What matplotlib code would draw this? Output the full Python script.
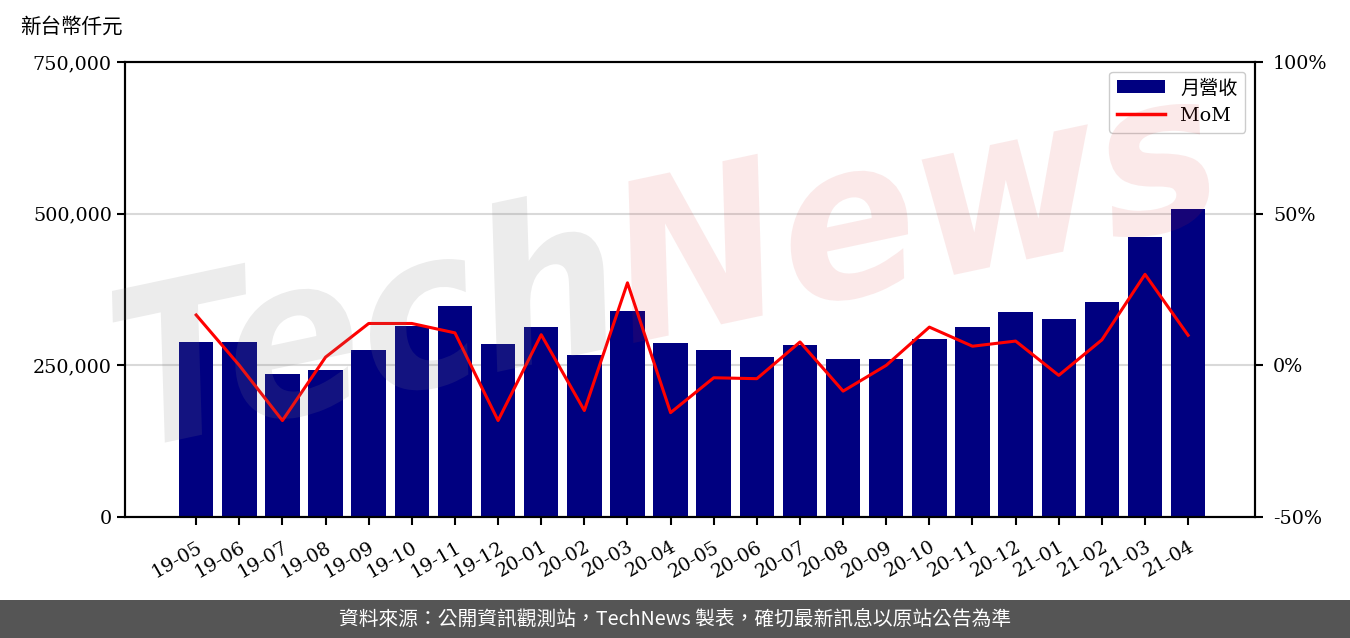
import matplotlib
matplotlib.use("Agg")
import matplotlib.pyplot as plt
from matplotlib.textpath import TextPath
from matplotlib.font_manager import FontProperties
from matplotlib.patches import PathPatch, Rectangle, Patch
from matplotlib.lines import Line2D
from matplotlib.transforms import Affine2D, IdentityTransform
from matplotlib.ticker import FuncFormatter

months = ["19-05", "19-06", "19-07", "19-08", "19-09", "19-10", "19-11", "19-12",
          "20-01", "20-02", "20-03", "20-04", "20-05", "20-06", "20-07", "20-08",
          "20-09", "20-10", "20-11", "20-12", "21-01", "21-02", "21-03", "21-04"]
revenue = [287800, 287800, 235000, 241600, 274600, 314100, 347100, 284500,
           312500, 266300, 338900, 286100, 274600, 263000, 282800, 259700,
           259700, 292700, 312500, 337200, 325700, 353700, 460900, 507100]
mom = [16.6, 0.0, -18.2, 2.7, 13.8, 13.8, 10.7, -18.2,
       10.1, -14.9, 27.2, -15.6, -4.1, -4.4, 7.7, -8.5,
       0.0, 12.6, 6.3, 8.0, -3.3, 8.4, 30.0, 9.9]

FONT = ["DejaVu Serif", "Noto Sans CJK TC"]
CJK = ["Noto Sans CJK TC", "DejaVu Sans"]
FS = 13.8

W, H, DPI = 1350, 638, 100
fig = plt.figure(figsize=(W / DPI, H / DPI), dpi=DPI)
ax = fig.add_axes([125 / W, 1 - 517 / H, (1255 - 125) / W, (517 - 62) / H])
ax2 = ax.twinx()

x = list(range(len(months)))
ax.bar(x, revenue, width=0.8, color="#000080", zorder=2)
ax.set_ylim(0, 750000)
ax.set_yticks([0, 250000, 500000, 750000])
ax.yaxis.set_major_formatter(FuncFormatter(lambda v, p: f"{int(v):,}"))
ax.grid(axis="y", color="#d9d9d9", linewidth=1.5, zorder=0)
ax.set_axisbelow(True)
ax.set_xlim(-1.65, len(months) - 1 + 1.55)
ax.set_xticks(x)
ax.set_xticklabels(months, rotation=30, ha="right", rotation_mode="anchor")

ax2.plot(x, mom, color="#ff0000", linewidth=2.2, zorder=3)
ax2.set_ylim(-50, 100)
ax2.set_yticks([-50, 0, 50, 100])
ax2.yaxis.set_major_formatter(FuncFormatter(lambda v, p: f"{int(v)}%"))

for a in (ax, ax2):
    for s in a.spines.values():
        s.set_linewidth(1.5)
    a.tick_params(width=1.5, length=6, labelsize=FS)
    for lbl in a.get_xticklabels() + a.get_yticklabels():
        lbl.set_family(FONT)
ax2.tick_params(axis="y", pad=7)
ax.tick_params(axis="x", pad=9)

handles = [Patch(facecolor="#000080"), Line2D([0], [0], color="#ff0000", linewidth=2.5)]
leg = ax2.legend(handles, ["月營收", "MoM"], loc="upper right",
                 prop=FontProperties(family=FONT, size=FS), handlelength=2.5,
                 fancybox=True, framealpha=1, edgecolor="#cccccc")

fig.text(20 / W, 1 - 27 / H, "新台幣仟元", family=CJK, fontsize=14.8, va="center", ha="left")

# watermark
fp = FontProperties(family="DejaVu Sans", style="italic", weight="bold")
tp1 = TextPath((0, 0), "Tech", size=230, prop=fp)
off = tp1.get_extents().x1 + 10
tp2 = TextPath((off, 0), "News", size=230, prop=fp)
tr = Affine2D().scale(0.88, 0.95).rotate_deg(12).translate(130, 638 - 450)
fig.add_artist(PathPatch(tr.transform_path(tp1), transform=IdentityTransform(),
                         facecolor="#808080", edgecolor="none", alpha=0.15, zorder=5))
fig.add_artist(PathPatch(tr.transform_path(tp2), transform=IdentityTransform(),
                         facecolor="#d83030", edgecolor="none", alpha=0.1, zorder=5))

# footer
fig.add_artist(Rectangle((0, 0), 1, 38 / H, transform=fig.transFigure,
                         facecolor="#555555", edgecolor="none", zorder=6))
fig.text(0.5, 19 / H, "資料來源：公開資訊觀測站，TechNews 製表，確切最新訊息以原站公告為準",
         color="white", family=CJK, fontsize=14.2, ha="center", va="center", zorder=7)

fig.savefig("out.png", dpi=DPI)
